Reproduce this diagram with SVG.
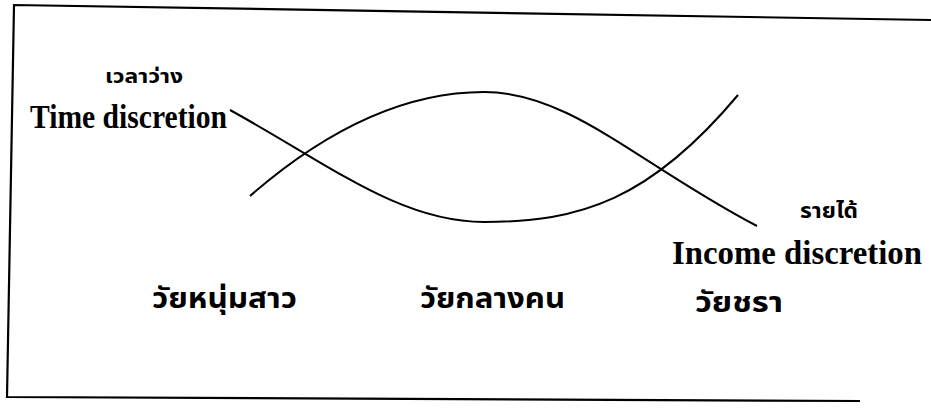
<svg xmlns="http://www.w3.org/2000/svg" width="931" height="409" viewBox="0 0 931 409">
<style>
.frame{fill:none;stroke:#000;stroke-width:2.2}
.curve{fill:none;stroke:#000;stroke-width:2}
.en{font-family:"Liberation Serif","Times New Roman",serif;font-weight:bold;fill:#000}
.th{font-family:"Noto Sans Thai","Loma","Garuda","DejaVu Sans","Noto Sans",sans-serif;font-weight:bold;fill:#000}
</style>
<rect width="931" height="409" fill="#fff"/>
<g id="frame">
<path class="frame" d="M931,20 L14,5 L7,397 L860,401"/>
</g>
<g id="connectors">
<path id="time-curve" class="curve" d="M230,110 C330,165 400,222 484,222 C580,222 650,200 738,95"/>
<path id="income-curve" class="curve" d="M250,196 C320,135 400,92 484,92 C570,92 640,165 757,226"/>
</g>
<g id="time-label">
<text class="th" x="105" y="83" font-size="20" textLength="78" lengthAdjust="spacingAndGlyphs">เวลาว่าง</text>
<text class="en" x="30" y="128" font-size="33" textLength="197" lengthAdjust="spacingAndGlyphs">Time discretion</text>
</g>
<g id="income-label">
<text class="th" x="800" y="218" font-size="21" textLength="58" lengthAdjust="spacingAndGlyphs">รายได้</text>
<text class="en" x="672" y="264" font-size="33" textLength="250" lengthAdjust="spacingAndGlyphs">Income discretion</text>
</g>
<g id="young">
<text class="th" x="152" y="308" font-size="28" textLength="145" lengthAdjust="spacingAndGlyphs">วัยหนุ่มสาว</text>
</g>
<g id="middle">
<text class="th" x="420" y="308" font-size="28" textLength="145" lengthAdjust="spacingAndGlyphs">วัยกลางคน</text>
</g>
<g id="old">
<text class="th" x="695" y="312" font-size="28" textLength="88" lengthAdjust="spacingAndGlyphs">วัยชรา</text>
</g>
</svg>
